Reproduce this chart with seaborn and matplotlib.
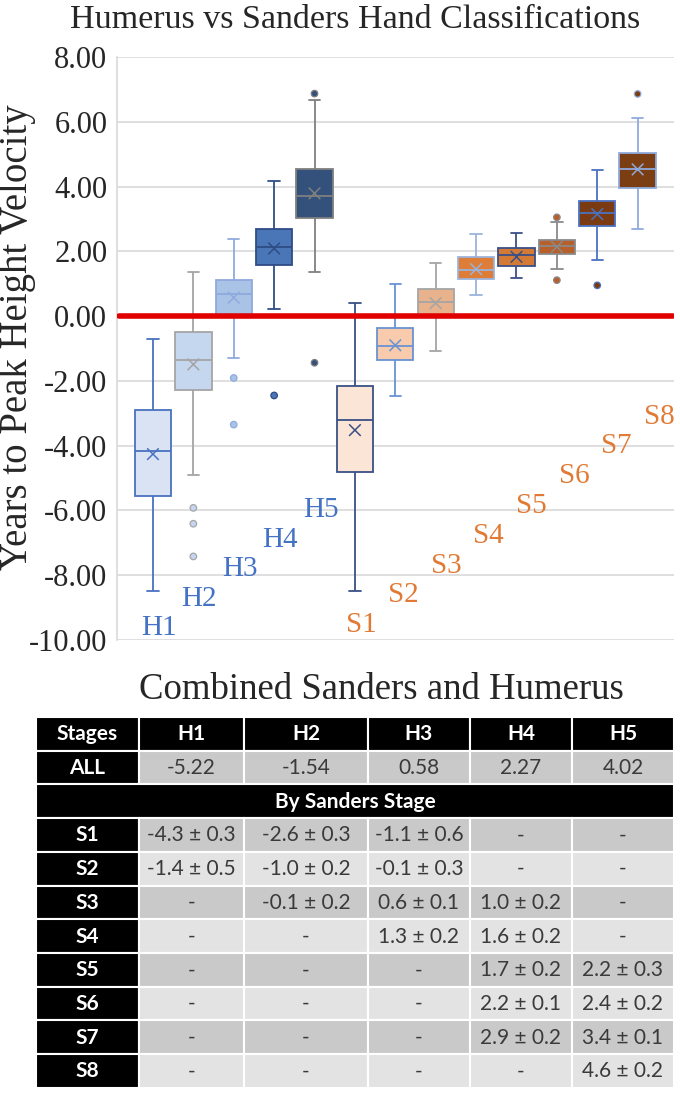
import numpy as np
import pandas as pd
import matplotlib
matplotlib.use("Agg")
import matplotlib.pyplot as plt
from matplotlib.patches import Rectangle
import seaborn as sns

# ---------------- data ----------------
categories = ["H1", "H2", "H3", "H4", "H5", "S1", "S2", "S3", "S4", "S5", "S6", "S7", "S8"]
whisker_low = [-8.49, -4.91, -1.28, 0.23, 1.35, -8.49, -2.48, -1.07, 0.65, 1.18, 1.45, 1.72, 2.69]
quartile1 = [-5.55, -2.28, 0.02, 1.58, 3.02, -4.82, -1.36, 0.03, 1.14, 1.55, 1.92, 2.79, 3.96]
medians = [-4.18, -1.34, 0.67, 2.12, 3.70, -3.21, -0.93, 0.43, 1.42, 1.88, 2.17, 3.18, 4.53]
quartile3 = [-2.91, -0.50, 1.13, 2.69, 4.53, -2.15, -0.36, 0.85, 1.82, 2.10, 2.36, 3.56, 5.04]
whisker_high = [-0.70, 1.36, 2.37, 4.17, 6.67, 0.42, 1.00, 1.63, 2.53, 2.57, 2.91, 4.52, 6.13]
means = [-4.26, -1.49, 0.57, 2.09, 3.79, -3.52, -0.90, 0.40, 1.45, 1.83, 2.14, 3.15, 4.53]
outlier_cats = ["H2", "H2", "H2", "H3", "H3", "H4", "H5", "H5", "S6", "S6", "S7", "S8"]
outlier_vals = [-5.92, -6.41, -7.42, -1.91, -3.35, -2.45, 6.87, -1.44, 3.05, 1.11, 0.95, 6.86]

humerus_labels = ["H1", "H2", "H3", "H4", "H5"]
sanders_labels = ["S1", "S2", "S3", "S4", "S5", "S6", "S7", "S8"]

table_cols = ["Stages", "H1", "H2", "H3", "H4", "H5"]
table_all = ["-5.22", "-1.54", "0.58", "2.27", "4.02"]
table_rows = ["S1", "S2", "S3", "S4", "S5", "S6", "S7", "S8"]
table_vals = [
    ["-4.3 ± 0.3", "-2.6 ± 0.3", "-1.1 ± 0.6", "-", "-"],
    ["-1.4 ± 0.5", "-1.0 ± 0.2", "-0.1 ± 0.3", "-", "-"],
    ["-", "-0.1 ± 0.2", "0.6 ± 0.1", "1.0 ± 0.2", "-"],
    ["-", "-", "1.3 ± 0.2", "1.6 ± 0.2", "-"],
    ["-", "-", "-", "1.7 ± 0.2", "2.2 ± 0.3"],
    ["-", "-", "-", "2.2 ± 0.1", "2.4 ± 0.2"],
    ["-", "-", "-", "2.9 ± 0.2", "3.4 ± 0.1"],
    ["-", "-", "-", "-", "4.6 ± 0.2"],
]

# ---------------- styles ----------------
fill_colors = ["#dae3f3", "#c5d6ef", "#a9c3e6", "#4a76b8", "#34517c",
               "#fbe5d6", "#f8cbad", "#e8b28c", "#dd7d37", "#d47a35", "#b8602a", "#7a3b13", "#7b3d12"]
edge_colors = ["#4a72c0", "#a5a5a5", "#8faadc", "#2f4d85", "#7f7f7f",
               "#3a5185", "#6a92d3", "#a5a5a5", "#9bb3dc", "#3a4f86", "#8a8a8a", "#4a72c0", "#8faadc"]
H_COLOR = "#4472c4"
S_COLOR = "#e07a35"
SERIF = ["Liberation Serif", "DejaVu Serif"]

sns.set_style("white")
plt.rcParams["font.family"] = SERIF

fig = plt.figure(figsize=(6.8, 11.06), dpi=100)

# overlay axes (pixel coordinates) for titles and the table
tax = fig.add_axes([0, 0, 1, 1])
tax.set_xlim(0, 680)
tax.set_ylim(1106, 0)
tax.axis("off")

ax = fig.add_axes([117 / 680, 1 - 640 / 1106, 557 / 680, 583 / 1106])
ax.set_facecolor("none")

# box data: five-number summary per category
long_cat, long_val = [], []
for c, a, b, m, d, e in zip(categories, whisker_low, quartile1, medians, quartile3, whisker_high):
    for v in (a, b, m, d, e):
        long_cat.append(c)
        long_val.append(v)
box_df = pd.DataFrame({"stage": long_cat, "ytphv": long_val})

sns.boxplot(data=box_df, x="stage", y="ytphv", hue="stage", order=categories,
            hue_order=categories, palette=dict(zip(categories, fill_colors)),
            saturation=1, whis=(0, 100), width=0.9, capwidths=0.28,
            linewidth=1.3, legend=False, ax=ax, zorder=3)

# recolor edges per box
for cont, ec in zip(ax.containers, edge_colors):
    for p in cont.boxes:
        p.set_edgecolor(ec)
    for ln in list(cont.whiskers) + list(cont.caps) + list(cont.medians):
        ln.set_color(ec)

positions = np.arange(len(categories))
mean_df = pd.DataFrame({"pos": positions, "mean": means, "stage": categories})
sns.scatterplot(data=mean_df, x="pos", y="mean", hue="stage",
                palette=dict(zip(categories, edge_colors)), marker="x", s=70,
                linewidth=1.1, legend=False, ax=ax, zorder=5)

out_pos = [categories.index(c) for c in outlier_cats]
out_df = pd.DataFrame({"pos": out_pos, "val": outlier_vals, "stage": outlier_cats})
sns.scatterplot(data=out_df, x="pos", y="val", hue="stage",
                palette=dict(zip(categories, fill_colors)), marker="o", s=22,
                edgecolor=[edge_colors[p] for p in out_pos], linewidth=0.9,
                legend=False, ax=ax, zorder=5)

# zero reference line
ax.axhline(0, xmin=0.004, xmax=0.998, color="#e00000", lw=4, zorder=4)

ax.set_xlim(-0.89, 12.9)
ax.set_ylim(-10, 8)
ax.set_yticks(np.arange(-10, 8.1, 2))
ax.set_yticklabels([f"{v:.2f}" for v in np.arange(-10, 8.1, 2)], fontsize=22, family=SERIF)
ax.tick_params(axis="y", length=0, pad=7)
ax.tick_params(axis="x", length=0, labelbottom=False)
ax.set_xlabel("")
ax.set_ylabel("")
ax.grid(axis="y", color="#d9d9d9", lw=1.2, zorder=0)
ax.set_axisbelow(True)
for s in ("top", "right", "bottom"):
    ax.spines[s].set_visible(False)
ax.spines["left"].set_color("#d9d9d9")
ax.spines["left"].set_linewidth(1.2)

# category labels in the plot
for i, lab in enumerate(humerus_labels):
    ax.text(i + 0.15, -9.63 + 0.91 * i, lab, color=H_COLOR, fontsize=21,
            ha="center", va="center", family=SERIF, zorder=6)
for j, lab in enumerate(sanders_labels):
    ax.text(5 + j + 0.15 + 0.055 * j, -9.54 + 0.92 * j, lab, color=S_COLOR, fontsize=21,
            ha="center", va="center", family=SERIF, zorder=6)

# titles
tax.text(355, 20, "Humerus vs Sanders Hand Classifications", fontsize=24.5,
         ha="center", va="center", family=SERIF)
tax.text(18, 337, "Years to Peak Height Velocity", fontsize=28, rotation=90,
         ha="center", va="center", family=SERIF)
tax.text(381, 690, "Combined Sanders and Humerus", fontsize=26.5,
         ha="center", va="center", family=SERIF)

# ---------------- table ----------------
col_edges = [36, 139, 244, 368, 470, 572, 674]
row_top = 717
row_h = 33.7
TFONT = ["Lato", "DejaVu Sans"]
DARK = "#c9c9c9"
LIGHT = "#e3e3e3"
HEAD_SIZE = 15
BODY_SIZE = 15


def cell(x0, x1, y0, y1, fc, txt, color, bold, size):
    tax.add_patch(Rectangle((x0, y0), x1 - x0, y1 - y0, facecolor=fc,
                            edgecolor="white", lw=1.5))
    tax.text((x0 + x1) / 2, (y0 + y1) / 2 + 0.5, txt, ha="center", va="center",
             color=color, fontsize=size, fontweight="bold" if bold else "normal",
             family=TFONT)


def row_y(k):
    return row_top + k * row_h, row_top + (k + 1) * row_h


# header row
y0, y1 = row_y(0)
for c, name in enumerate(table_cols):
    cell(col_edges[c], col_edges[c + 1], y0, y1, "black", name, "white", True, HEAD_SIZE)
# ALL row
y0, y1 = row_y(1)
cell(col_edges[0], col_edges[1], y0, y1, "black", "ALL", "white", True, HEAD_SIZE)
for c, v in enumerate(table_all):
    cell(col_edges[c + 1], col_edges[c + 2], y0, y1, DARK, v, "#3a3a3a", False, BODY_SIZE)
# By Sanders Stage
y0, y1 = row_y(2)
cell(col_edges[0], col_edges[-1], y0, y1, "black", "By Sanders Stage", "white", True, HEAD_SIZE)
# Sanders rows
for r, (name, vals) in enumerate(zip(table_rows, table_vals)):
    y0, y1 = row_y(3 + r)
    shade = DARK if r % 2 == 0 else LIGHT
    cell(col_edges[0], col_edges[1], y0, y1, "black", name, "white", True, HEAD_SIZE)
    for c, v in enumerate(vals):
        cell(col_edges[c + 1], col_edges[c + 2], y0, y1, shade, v, "#3a3a3a", False, BODY_SIZE)

fig.savefig("out.png", dpi=100)
